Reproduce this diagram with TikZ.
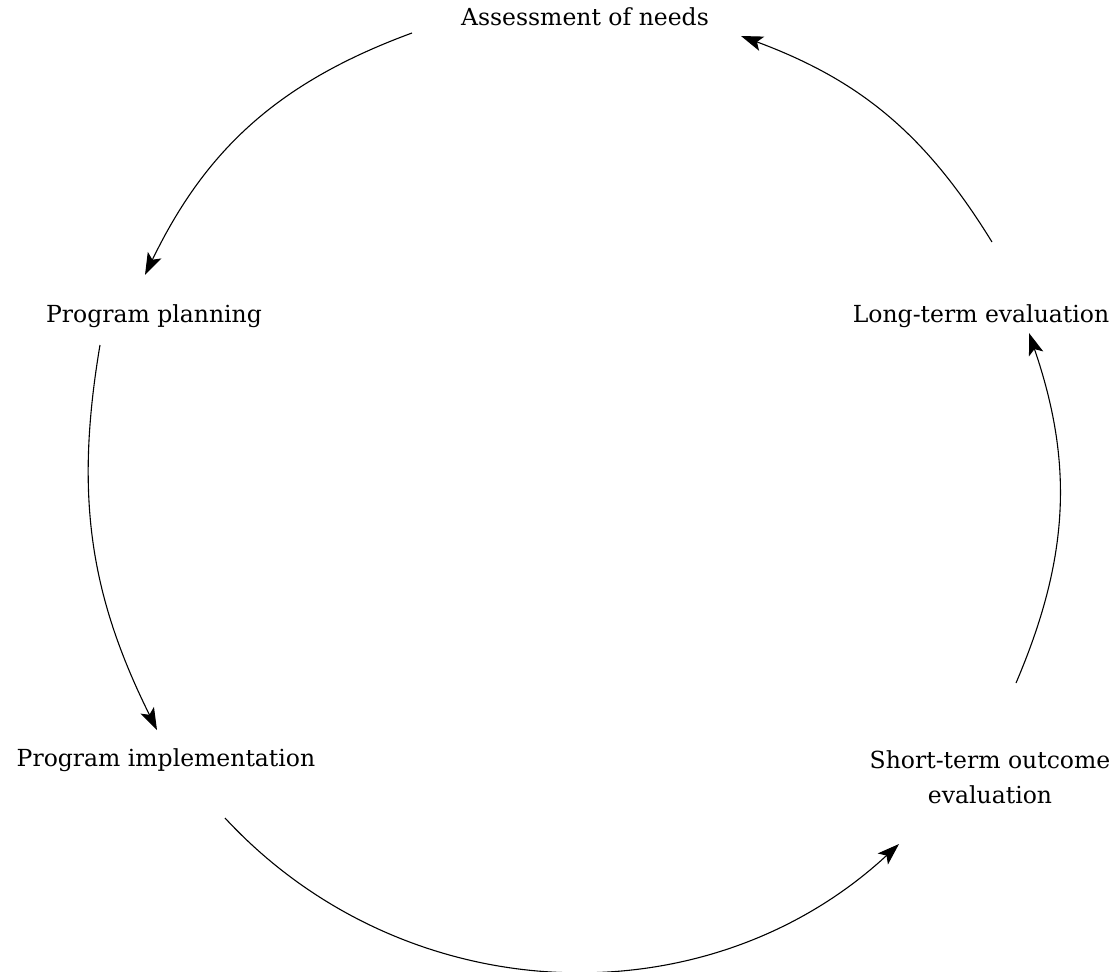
\documentclass[tikz,border=0pt]{standalone}
\usepackage{fontspec}
\setmainfont{DejaVu Serif}
\usetikzlibrary{arrows.meta}

\begin{document}
\begin{tikzpicture}[x=1pt,y=-1pt,inner sep=0pt,
  stage/.style={font=\fontsize{23.5}{35}\selectfont,align=center},
  flow/.style={line width=1.1pt,-{Stealth[length=22pt,width=15pt,inset=5pt]}}]
\useasboundingbox (0,0) rectangle (1112,972);

\node[stage] (needs) at (585,17) {Assessment of needs};
\node[stage] (plan) at (154,316) {Program planning};
\node[stage] (impl) at (166,760) {Program implementation};
\node[stage] (short) at (990,777) {Short-term outcome\\evaluation};
\node[stage] (long) at (981,316) {Long-term evaluation};

\coordinate (a0) at (412,33);   \coordinate (a1) at (145,275);
\coordinate (b0) at (100,345);  \coordinate (b1) at (157,730);
\coordinate (c0) at (225,818);  \coordinate (c1) at (899,844);
\coordinate (d0) at (1016,683); \coordinate (d1) at (1029,333);
\coordinate (e0) at (992,242);  \coordinate (e1) at (741,36);

\draw[flow] (a0) to[bend right=22] (a1);
\draw[flow] (b0) to[bend right=18] (b1);
\draw[flow] (c0) to[bend right=45] (c1);
\draw[flow] (d0) to[bend right=21] (d1);
\draw[flow] (e0) to[bend right=19] (e1);
\end{tikzpicture}
\end{document}
